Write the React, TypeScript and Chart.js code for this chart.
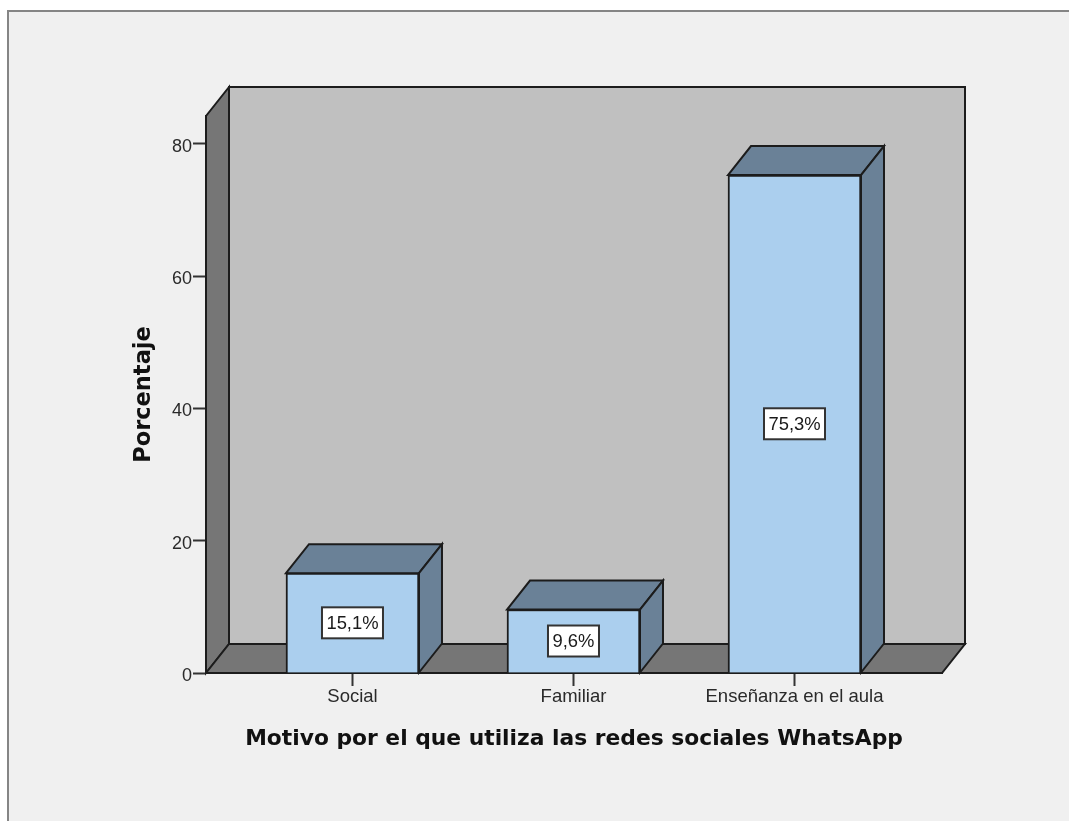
import React, { useEffect, useRef } from "react";
import { Chart, registerables } from "chart.js";

Chart.register(...registerables);

const categories = ["Social", "Familiar", "Enseñanza en el aula"];
const percentages = [15.1, 9.6, 75.3];
const yTickValues = [0, 20, 40, 60, 80];
const yAxisMax = 84.23;
const xTitle = "Motivo por el que utiliza las redes sociales WhatsApp";
const yTitle = "Porcentaje";

const DX = 23;
const DY = 29;
const LINE = "#1c1c1c";
const FRONT = "#abcfee";
const SIDE = "#6a8197";
const WALL = "#c0c0c0";
const DARK = "#767676";
const PANEL = "#f0f0f0";
const FRAME = "#858585";
const FONT = "'Liberation Sans', Arial, sans-serif";

function poly(ctx: CanvasRenderingContext2D, pts: number[][], fill: string, width = 2) {
  ctx.beginPath();
  pts.forEach(([x, y], i) => (i ? ctx.lineTo(x, y) : ctx.moveTo(x, y)));
  ctx.closePath();
  ctx.fillStyle = fill;
  ctx.fill();
  ctx.lineWidth = width;
  ctx.lineJoin = "miter";
  ctx.strokeStyle = LINE;
  ctx.stroke();
}

const box3d = {
  id: "box3d",
  beforeDraw(chart: any) {
    const { ctx, chartArea: a, width, height } = chart;
    ctx.save();
    ctx.fillStyle = "#ffffff";
    ctx.fillRect(0, 0, width, height);
    ctx.fillStyle = PANEL;
    ctx.fillRect(8, 11, width - 8, height - 12);
    ctx.fillStyle = FRAME;
    ctx.fillRect(7, 10, width - 7, 2);
    ctx.fillRect(7, 10, 2, height - 11);
    // back wall, left wall and floor
    poly(ctx, [[a.left + DX, a.top - DY], [a.right + DX, a.top - DY], [a.right + DX, a.bottom - DY], [a.left + DX, a.bottom - DY]], WALL);
    poly(ctx, [[a.left, a.top], [a.left + DX, a.top - DY], [a.left + DX, a.bottom - DY], [a.left, a.bottom]], DARK);
    poly(ctx, [[a.left, a.bottom], [a.left + DX, a.bottom - DY], [a.right + DX, a.bottom - DY], [a.right, a.bottom]], DARK);
    ctx.restore();
  },
  beforeDatasetsDraw(chart: any) {
    const { ctx } = chart;
    ctx.save();
    chart.getDatasetMeta(0).data.forEach((bar: any) => {
      const { x, y, base, width } = bar.getProps(["x", "y", "base", "width"], true);
      const l = x - width / 2;
      const r = x + width / 2;
      poly(ctx, [[l, y], [l + DX, y - DY], [r + DX, y - DY], [r, y]], SIDE);
      poly(ctx, [[r, y], [r + DX, y - DY], [r + DX, base - DY], [r, base]], SIDE);
    });
    ctx.restore();
  },
  afterDatasetsDraw(chart: any) {
    const { ctx } = chart;
    ctx.save();
    ctx.font = `18.4px ${FONT}`;
    ctx.textAlign = "center";
    ctx.textBaseline = "middle";
    chart.getDatasetMeta(0).data.forEach((bar: any, i: number) => {
      const { x, y, base } = bar.getProps(["x", "y", "base"], true);
      const label = percentages[i].toFixed(1).replace(".", ",") + "%";
      const w = Math.round(ctx.measureText(label).width) + 9;
      const h = 31;
      const cy = (y + base) / 2;
      ctx.fillStyle = "#ffffff";
      ctx.strokeStyle = "#333333";
      ctx.lineWidth = 2;
      ctx.fillRect(x - w / 2, cy - h / 2, w, h);
      ctx.strokeRect(x - w / 2, cy - h / 2, w, h);
      ctx.fillStyle = "#1a1a1a";
      ctx.fillText(label, x, cy + 1);
    });
    ctx.restore();
  },
};

export default function App() {
  const ref = useRef<HTMLCanvasElement>(null);
  useEffect(() => {
    const chart = new Chart(ref.current!, {
      type: "bar",
      data: {
        datasets: [
          {
            data: percentages.map((y, x) => ({ x, y })),
            backgroundColor: FRONT,
            borderColor: LINE,
            borderWidth: 2,
            barThickness: 133,
          },
        ],
      },
      options: {
        animation: false,
        responsive: false,
        layout: { padding: { top: 116, right: 127, left: 0, bottom: 0 } },
        plugins: { legend: { display: false }, tooltip: { enabled: false } },
        scales: {
          x: {
            type: "linear",
            min: -0.6628,
            max: 2.6674,
            offset: false,
            afterBuildTicks: (s: any) => {
              s.ticks = categories.map((_, value) => ({ value }));
            },
            afterFit: (s: any) => {
              s.height = 149;
            },
            grid: { display: true, drawOnChartArea: false, offset: false, tickLength: 13, tickColor: "#333333", tickWidth: 2 },
            border: { display: true, color: LINE, width: 2 },
            ticks: {
              autoSkip: false,
              maxRotation: 0,
              padding: 0,
              color: "#2a2a2a",
              font: { family: FONT, size: 18.5 },
              callback: (v: any) => categories[v as number],
            },
            title: {
              display: true,
              text: xTitle,
              color: "#111111",
              padding: { bottom: 70 },
              font: { family: "'DejaVu Sans'", size: 21.8, weight: "bold" },
            },
          },
          y: {
            min: 0,
            max: yAxisMax,
            afterBuildTicks: (s: any) => {
              s.ticks = yTickValues.map((value) => ({ value }));
            },
            afterFit: (s: any) => {
              s.width = 206;
            },
            grid: { display: true, drawOnChartArea: false, tickLength: 13, tickColor: "#333333", tickWidth: 2 },
            border: { display: true, color: LINE, width: 2 },
            ticks: {
              padding: 1,
              labelOffset: 3,
              color: "#2a2a2a",
              font: { family: FONT, size: 18 },
            },
            title: {
              display: true,
              text: yTitle,
              color: "#111111",
              padding: { top: 131 },
              font: { family: "'DejaVu Sans'", size: 22.5, weight: "bold" },
            },
          },
        },
      },
      plugins: [box3d],
    } as any);
    return () => chart.destroy();
  }, []);
  return (
    <canvas
      ref={ref}
      width={1069}
      height={822}
      style={{ position: "absolute", left: 0, top: 0, display: "block", filter: "blur(0.4px)" }}
    />
  );
}
